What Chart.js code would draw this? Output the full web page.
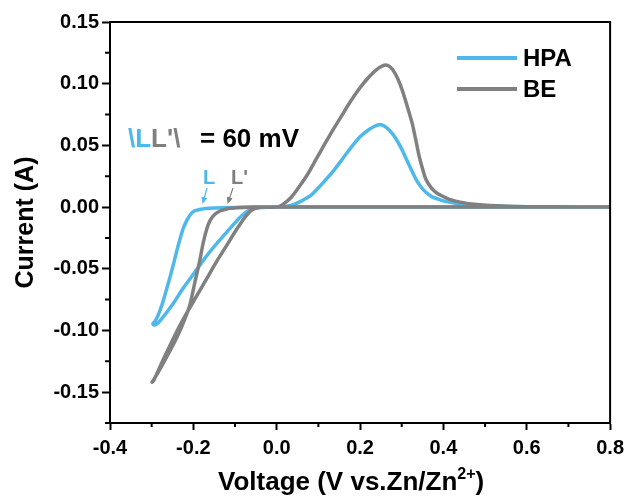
<!DOCTYPE html>
<html>
<head>
<meta charset="utf-8">
<script src="https://cdn.jsdelivr.net/npm/chart.js@4.4.1/dist/chart.umd.min.js"></script>
<style>
  body { margin: 0; background: #fff; }
  #wrap { width: 630px; height: 499px; }
</style>
</head>
<body>
<div id="wrap"><canvas id="cvChart" width="630" height="499"></canvas></div>
<script>
// HPA curve (voltage, current)
var hpaV = [0.8, 0.6, 0.4, 0.2, 0.0, -0.1, -0.15, -0.17, -0.185, -0.197, -0.207, -0.216, -0.225, -0.237, -0.249, -0.262, -0.275, -0.285, -0.292, -0.297,
  -0.295, -0.288, -0.278, -0.25, -0.225, -0.2, -0.168, -0.14, -0.113, -0.09, -0.075, -0.065, -0.055, -0.04, 0.0,
  0.02, 0.04, 0.06, 0.08, 0.1, 0.12, 0.14, 0.16, 0.18, 0.2, 0.22, 0.235, 0.245, 0.255, 0.265, 0.275, 0.287, 0.3, 0.311, 0.322, 0.334, 0.346, 0.358, 0.372, 0.389, 0.41, 0.45, 0.5, 0.6, 0.8];
var hpaI = [0, 0, 0, 0, 0, -0.0004, -0.0008, -0.0012, -0.002, -0.003, -0.006, -0.011, -0.018, -0.032, -0.048, -0.064, -0.079, -0.088, -0.0925, -0.0945,
  -0.0955, -0.0948, -0.0915, -0.079, -0.066, -0.0545, -0.0395, -0.028, -0.0177, -0.009, -0.0045, -0.0024, -0.001, -0.0003, 0,
  0.0005, 0.002, 0.005, 0.009, 0.0155, 0.023, 0.031, 0.040, 0.049, 0.057, 0.0625, 0.0655, 0.0668, 0.0662, 0.064, 0.0605, 0.055, 0.047, 0.039, 0.031, 0.0226, 0.0165, 0.012, 0.0085, 0.0063, 0.0042, 0.0022, 0.001, 0.0003, 0];

// BE curve (voltage, current)
var beV = [0.8, 0.6, 0.4, 0.2, 0.0, -0.05, -0.09, -0.11, -0.12, -0.135, -0.149, -0.16, -0.168, -0.177, -0.185, -0.197, -0.209, -0.228, -0.249, -0.273, -0.296, -0.299,
  -0.295, -0.27, -0.24, -0.216, -0.192, -0.168, -0.144, -0.12, -0.096, -0.08, -0.068, -0.058, -0.045, -0.03, 0.0,
  0.014, 0.035, 0.055, 0.075, 0.095, 0.115, 0.135, 0.155, 0.175, 0.195, 0.215, 0.232, 0.246, 0.258, 0.268, 0.278, 0.29, 0.301, 0.313, 0.325, 0.334, 0.342, 0.35, 0.358, 0.37, 0.382, 0.397, 0.413, 0.44, 0.48, 0.55, 0.65, 0.8];
var beI = [0, 0, 0, 0, 0, 0, -0.0003, -0.001, -0.0015, -0.003, -0.006, -0.011, -0.018, -0.030, -0.044, -0.062, -0.080, -0.097, -0.112, -0.127, -0.1405, -0.142,
  -0.1405, -0.122, -0.101, -0.086, -0.072, -0.058, -0.044, -0.031, -0.018, -0.010, -0.005, -0.002, -0.0005, 0, 0,
  0.002, 0.008, 0.017, 0.027, 0.039, 0.051, 0.0625, 0.0735, 0.0845, 0.0945, 0.103, 0.109, 0.113, 0.115, 0.1145, 0.1115, 0.1045, 0.095, 0.082, 0.068, 0.054, 0.041, 0.031, 0.0226, 0.016, 0.012, 0.009, 0.0065, 0.004, 0.002, 0.0007, 0.0002, 0];

var xTicks = [-0.4, -0.2, 0.0, 0.2, 0.4, 0.6, 0.8];
var xMinor = [-0.3, -0.1, 0.1, 0.3, 0.5, 0.7];
var yTicks = [-0.15, -0.10, -0.05, 0.00, 0.05, 0.10, 0.15];
var yMinor = [-0.175, -0.125, -0.075, -0.025, 0.025, 0.075, 0.125];

var BLUE = '#4fb8eb';
var GRAY = '#808080';
var FONT = "'Liberation Sans', Arial, sans-serif";

function toPoints(xs, ys) {
  var pts = [];
  for (var i = 0; i < xs.length; i++) pts.push({ x: xs[i], y: ys[i] });
  return pts;
}

function arrow(ctx, x1, y1, x2, y2, color) {
  var a = Math.atan2(y2 - y1, x2 - x1);
  ctx.strokeStyle = color;
  ctx.fillStyle = color;
  ctx.lineWidth = 1.2;
  ctx.beginPath();
  ctx.moveTo(x1, y1);
  ctx.lineTo(x2 - 5 * Math.cos(a), y2 - 5 * Math.sin(a));
  ctx.stroke();
  ctx.beginPath();
  ctx.moveTo(x2, y2);
  ctx.lineTo(x2 - 7 * Math.cos(a) + 3 * Math.sin(a), y2 - 7 * Math.sin(a) - 3 * Math.cos(a));
  ctx.lineTo(x2 - 7 * Math.cos(a) - 3 * Math.sin(a), y2 - 7 * Math.sin(a) + 3 * Math.cos(a));
  ctx.closePath();
  ctx.fill();
}

var extras = {
  id: 'extras',
  afterDraw: function (chart) {
    var ctx = chart.ctx;
    var a = chart.chartArea;
    var xs = chart.scales.x, ys = chart.scales.y;
    ctx.save();

    // frame top / right
    ctx.strokeStyle = '#000';
    ctx.lineWidth = 2;
    ctx.beginPath();
    ctx.moveTo(a.left, a.top);
    ctx.lineTo(a.right, a.top);
    ctx.lineTo(a.right, a.bottom);
    ctx.stroke();

    // minor ticks
    ctx.beginPath();
    xMinor.forEach(function (v) {
      var px = xs.getPixelForValue(v);
      ctx.moveTo(px, a.bottom);
      ctx.lineTo(px, a.bottom + 4);
    });
    yMinor.forEach(function (v) {
      var py = ys.getPixelForValue(v);
      ctx.moveTo(a.left, py);
      ctx.lineTo(a.left - 5, py);
    });
    ctx.stroke();

    // x axis title with superscript
    ctx.fillStyle = '#000';
    ctx.textBaseline = 'alphabetic';
    var t1 = 'Voltage (V vs.Zn/Zn';
    var sup = '2+';
    var t2 = ')';
    ctx.font = 'bold 26px ' + FONT;
    var w1 = ctx.measureText(t1).width;
    ctx.font = 'bold 16px ' + FONT;
    var w2 = ctx.measureText(sup).width;
    var x0 = 218;
    var base = 490;
    ctx.font = 'bold 26px ' + FONT;
    ctx.fillText(t1, x0, base);
    ctx.font = 'bold 16px ' + FONT;
    ctx.fillText(sup, x0 + w1, base - 11);
    ctx.font = 'bold 26px ' + FONT;
    ctx.fillText(t2, x0 + w1 + w2, base);

    // legend
    ctx.lineWidth = 4;
    ctx.strokeStyle = BLUE;
    ctx.beginPath(); ctx.moveTo(457, 58); ctx.lineTo(517, 58); ctx.stroke();
    ctx.strokeStyle = GRAY;
    ctx.beginPath(); ctx.moveTo(457, 89); ctx.lineTo(517, 89); ctx.stroke();
    ctx.fillStyle = '#000';
    ctx.textBaseline = 'middle';
    ctx.font = 'bold 24px ' + FONT;
    ctx.fillText('HPA', 523, 59);
    ctx.fillText('BE', 523, 90);

    // annotation text
    ctx.textBaseline = 'alphabetic';
    ctx.font = 'bold 26px ' + FONT;
    var s1 = '\\L', s2 = "L'\\";
    ctx.fillStyle = BLUE;
    ctx.fillText(s1, 128, 147);
    var ws1 = ctx.measureText(s1).width;
    ctx.fillStyle = GRAY;
    ctx.fillText(s2, 128 + ws1, 147);
    ctx.fillStyle = '#000';
    ctx.fillText('= 60 mV', 200, 147);

    ctx.font = 'bold 20px ' + FONT;
    ctx.fillStyle = BLUE;
    ctx.fillText('L', 203, 184);
    ctx.fillStyle = GRAY;
    ctx.fillText("L'", 231, 184);

    var y0 = ys.getPixelForValue(0);
    arrow(ctx, 207, 188, xs.getPixelForValue(-0.178), y0 - 3, BLUE);
    arrow(ctx, 233, 188, xs.getPixelForValue(-0.118), y0 - 3, GRAY);

    ctx.restore();
  }
};

var ctx = document.getElementById('cvChart');
var chart = new Chart(ctx, {
  type: 'scatter',
  data: {
    datasets: [
      { label: 'BE', data: toPoints(beV, beI), showLine: true, borderColor: GRAY, borderWidth: 3.5, pointRadius: 0, tension: 0.25, order: 0 },
      { label: 'HPA', data: toPoints(hpaV, hpaI), showLine: true, borderColor: BLUE, borderWidth: 3.5, pointRadius: 0, tension: 0.25, order: 1 }
    ]
  },
  options: {
    responsive: false,
    animation: false,
    layout: { padding: { top: 22, right: 18, left: 0, bottom: 0 } },
    plugins: { legend: { display: false }, tooltip: { enabled: false } },
    scales: {
      x: {
        type: 'linear', min: -0.4, max: 0.8,
        afterBuildTicks: function (s) { s.ticks = xTicks.map(function (v) { return { value: v }; }); },
        afterFit: function (s) { s.height = 76; },
        ticks: { color: '#000', font: { family: FONT, size: 20, weight: 'bold' }, padding: 6, maxRotation: 0,
          callback: function (v) { return Number(v).toFixed(1); } },
        grid: { drawOnChartArea: false, drawTicks: true, tickLength: 7, tickWidth: 2, tickColor: '#000' },
        border: { color: '#000', width: 2 }
      },
      y: {
        type: 'linear', min: -0.175, max: 0.15,
        afterBuildTicks: function (s) { s.ticks = yTicks.map(function (v) { return { value: v }; }); },
        afterFit: function (s) { s.width = 110; },
        ticks: { color: '#000', font: { family: FONT, size: 20, weight: 'bold' }, padding: 3,
          callback: function (v) { return Number(v).toFixed(2); } },
        grid: { drawOnChartArea: false, drawTicks: true, tickLength: 8, tickWidth: 2, tickColor: '#000' },
        border: { color: '#000', width: 2 },
        title: { display: true, text: 'Current (A)', color: '#000', font: { family: FONT, size: 25, weight: 'bold' }, padding: { top: 11, bottom: 0 } }
      }
    }
  },
  plugins: [extras]
});
</script>
</body>
</html>
